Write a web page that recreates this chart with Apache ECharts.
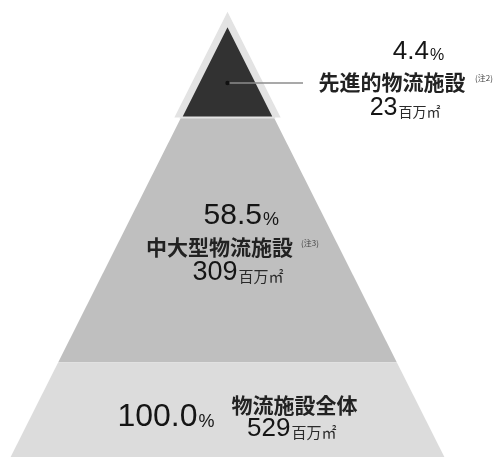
<!DOCTYPE html>
<html>
<head>
<meta charset="utf-8">
<script src="https://cdn.jsdelivr.net/npm/echarts@6/dist/echarts.min.js"></script>
<style>
  html, body { margin: 0; padding: 0; background: #fff; }
  #chart { width: 503px; height: 457px; }
</style>
</head>
<body>
<div id="chart"></div>
<script>
// 物流施設の延床面積（百万㎡）と全体に占める割合
const tierNames  = ['先進的物流施設', '中大型物流施設', '物流施設全体'];
const tierNotes  = ['(注2)', '(注3)', ''];
const tierShares = [4.4, 58.5, 100.0];   // %
const tierAreas  = [23, 309, 529];       // 百万㎡

// Each tier's lower edge sits at depth sqrt(share): a triangle's area grows with depth squared
const tierDepth = tierShares.map(s => Math.sqrt(s / 100));
const tierData = tierShares.map((s, i) => [i === 0 ? 0 : tierDepth[i - 1], tierDepth[i], i]);

const FILLS = ['#323232', '#bfbfbf', '#dcdcdc'];
const RIM = '#e3e3e3';
const NUM_FONT = '"Liberation Sans", Arial, sans-serif';
const JP_FONT = '"Noto Sans CJK JP", "Noto Sans", sans-serif';

// Label placement per tier, in pixels from the tier's mid point
const labelLayout = [
  { pctX: 201.5, pctY: -19, pctSize: 26, sgnY: -15.6, sgnSize: 16,
    nameX: 164.5, nameY: 10.8, noteX: 247.5, noteY: 6.8,
    valX: 170, valY: 37.3, valSize: 25, unitY: 40.5, unitSize: 14,
    leader: { y: 11.8, x1: 75.5 } },
  { pctX: 34.5, pctY: -24, pctSize: 30, sgnY: -19.9, sgnSize: 18,
    nameX: -8, nameY: 7.2, noteX: 73.5, noteY: 3.2,
    valX: 10, valY: 33, valSize: 27, unitY: 36.5, unitSize: 15 },
  { pctX: -30, pctY: 3.1, pctSize: 32, sgnY: 7.9, sgnSize: 18,
    nameX: 67, nameY: -9, noteX: 0, noteY: 0,
    valX: 63, valY: 15.2, valSize: 26, unitY: 18.3, unitSize: 15 }
];

function text(x, y, str, size, family, align, weight, color) {
  return {
    type: 'text', z2: 10, x: x, y: y,
    style: {
      text: str, fontSize: size, fontFamily: family, fontWeight: weight || 'normal',
      fill: color || '#151515', align: align, verticalAlign: 'middle'
    }
  };
}

function renderTier(params, api) {
  const i = api.value(2);
  const d0 = api.value(0), d1 = api.value(1);
  const tl = api.coord([-d0, d0]), tr = api.coord([d0, d0]);
  const bl = api.coord([-d1, d1]), br = api.coord([d1, d1]);
  const mid = api.coord([0, (d0 + d1) / 2]);
  const children = [];

  if (i === 0) {
    // top tier: dark triangle with a pale rim along its two upper sides
    const h = bl[1] - tl[1];
    const halfW = br[0] - tl[0];
    const len = Math.hypot(h, halfW);
    const sin = halfW / len, cos = h / len;
    const rim = 6;
    children.push({
      type: 'polygon', z2: 0,
      shape: { points: [[tl[0], tl[1] - rim / sin], [br[0] + rim / cos, br[1]], [bl[0] - rim / cos, bl[1]]] },
      style: { fill: RIM }
    });
    children.push({
      type: 'polygon', z2: 3,
      shape: { points: [tl, br, bl] },
      style: { fill: FILLS[0], stroke: RIM, lineWidth: 2 }
    });
  } else {
    children.push({
      type: 'polygon', z2: 1,
      shape: { points: [tl, tr, br, bl] },
      style: { fill: FILLS[i] }
    });
  }

  const L = labelLayout[i];
  const cx = mid[0], cy = mid[1];

  children.push(text(cx + L.pctX, cy + L.pctY, tierShares[i].toFixed(1), L.pctSize, NUM_FONT, 'right'));
  children.push(text(cx + L.pctX + 1, cy + L.sgnY, '%', L.sgnSize, NUM_FONT, 'left'));
  children.push(text(cx + L.nameX, cy + L.nameY, tierNames[i], 21, JP_FONT, 'center', 'bold', '#222'));
  if (tierNotes[i]) {
    children.push(text(cx + L.noteX, cy + L.noteY, tierNotes[i], 8, JP_FONT, 'left', 'normal', '#444'));
  }
  children.push(text(cx + L.valX, cy + L.valY, String(tierAreas[i]), L.valSize, NUM_FONT, 'right'));
  children.push(text(cx + L.valX + 1, cy + L.unitY, '百万㎡', L.unitSize, JP_FONT, 'left', 'normal', '#2a2a2a'));

  if (L.leader) {
    const ly = cy + L.leader.y;
    children.push({
      type: 'line', z2: 5,
      shape: { x1: cx, y1: ly, x2: cx + L.leader.x1, y2: ly },
      style: { stroke: '#8c8c8c', lineWidth: 1.5 }
    });
    children.push({
      type: 'circle', z2: 6,
      shape: { cx: cx, cy: ly, r: 2.2 },
      style: { fill: '#111' }
    });
  }

  return { type: 'group', children: children };
}

const chart = echarts.init(document.getElementById('chart'), null, { renderer: 'canvas' });
chart.setOption({
  animation: false,
  backgroundColor: '#ffffff',
  grid: { left: 6.2, right: 54.2, top: 25, bottom: 0 },
  xAxis: { type: 'value', min: -1, max: 1, show: false },
  yAxis: { type: 'value', min: 0, max: 0.98, inverse: true, show: false },
  series: [{
    type: 'custom',
    coordinateSystem: 'cartesian2d',
    renderItem: renderTier,
    encode: { x: -1, y: [0, 1] },
    data: tierData,
    silent: true
  }]
});
</script>
</body>
</html>
